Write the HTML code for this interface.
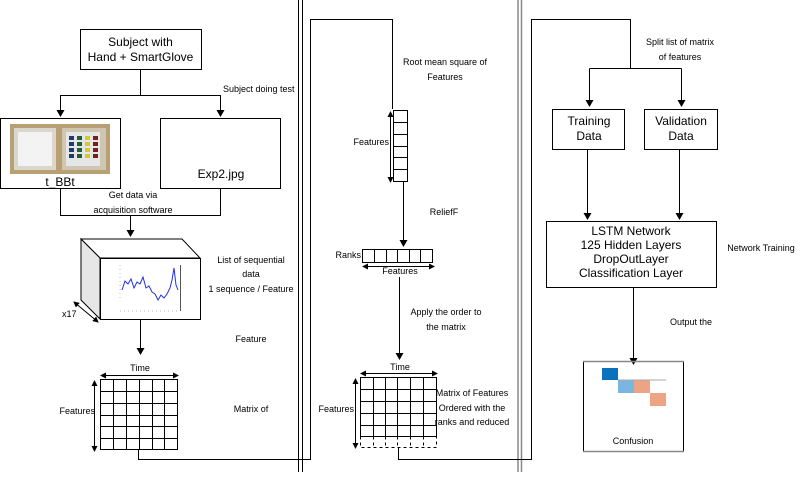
<!DOCTYPE html>
<html><head><meta charset="utf-8"><style>
html,body{margin:0;padding:0;background:#fff;}
svg{display:block;}
text{font-family:"Liberation Sans",sans-serif;fill:#000;}
.s{font-size:9px;}
.m{font-size:12px;}
</style></head><body>
<svg width="807" height="482" viewBox="0 0 807 482" xmlns="http://www.w3.org/2000/svg">
<defs>
<marker id="a" markerWidth="8" markerHeight="8" refX="6" refY="4" orient="auto" markerUnits="userSpaceOnUse"><path d="M0,0 L7,4 L0,8 Z" fill="#000"/></marker>
<marker id="b" markerWidth="6" markerHeight="6" refX="5" refY="3" orient="auto-start-reverse" markerUnits="userSpaceOnUse"><path d="M0,0 L6,3 L0,6 Z" fill="#000"/></marker>
</defs>
<g stroke="#000" fill="none" stroke-width="1">
<!-- separators -->
<line x1="298.5" y1="0" x2="298.5" y2="472"/><line x1="302.5" y1="0" x2="302.5" y2="472"/>
<line x1="518" y1="0" x2="518" y2="472" stroke="#888" stroke-width="1.5"/><line x1="521.5" y1="0" x2="521.5" y2="472" stroke="#888" stroke-width="1.5"/>

<!-- top box -->
<rect x="80.5" y="29.5" width="121" height="40"/>
<path d="M140.5,69 V95.5 H60.5 V116" marker-end="url(#a)"/>
<path d="M140.5,95.5 H220.5 V116" marker-end="url(#a)"/>
<rect x="0.5" y="118.5" width="120" height="70"/>
<rect x="160.5" y="118.5" width="120" height="70"/>
<path d="M60.5,188 V215.5 H220.5 V188"/>
<path d="M130.5,215.5 V236" marker-end="url(#a)"/>

<!-- 3D box -->
<polygon points="81,239 182,239 200,258 100,258" fill="#fff"/>
<polygon points="81,239 100,258 100,319 81,300" fill="#e6e6e6"/>
<rect x="100.5" y="258.5" width="100" height="61" fill="#fff"/>
<line x1="74" y1="302" x2="98" y2="322" marker-start="url(#b)" marker-end="url(#b)"/>
<path d="M140.5,319 V354" marker-end="url(#a)"/>

<!-- matrix 1 -->
<rect x="100.5" y="379.5" width="77" height="70"/>
<path d="M113.5,379.5V449.5M126.5,379.5V449.5M139.5,379.5V449.5M152.5,379.5V449.5M164.5,379.5V449.5"/>
<path d="M100.5,391.5H177.5M100.5,403.5H177.5M100.5,415.5H177.5M100.5,426.5H177.5M100.5,438.5H177.5"/>
<line x1="101" y1="375.5" x2="178" y2="375.5" marker-start="url(#b)" marker-end="url(#b)"/>
<line x1="94.5" y1="381" x2="94.5" y2="451" marker-start="url(#b)" marker-end="url(#b)"/>
<path d="M138.5,449 V459.5 H310.5 V19.5 H392.5 V109"/>

<!-- feature column -->
<rect x="393.5" y="110.5" width="14" height="71"/>
<path d="M393.5,122.5H407.5M393.5,134.5H407.5M393.5,146.5H407.5M393.5,157.5H407.5M393.5,169.5H407.5"/>
<line x1="390.5" y1="112" x2="390.5" y2="182" marker-start="url(#b)" marker-end="url(#b)"/>
<path d="M403.5,181 V246" marker-end="url(#a)"/>
<rect x="362.5" y="249.5" width="70" height="13"/>
<path d="M374.5,249.5V262.5M386.5,249.5V262.5M397.5,249.5V262.5M409.5,249.5V262.5M420.5,249.5V262.5"/>
<line x1="363" y1="266.5" x2="434" y2="266.5" marker-start="url(#b)" marker-end="url(#b)"/>
<path d="M399.5,277 V359" marker-end="url(#a)"/>

<!-- matrix 2 -->
<rect x="360.5" y="377.5" width="76" height="59"/>
<path d="M373.5,377.5V436.5M385.5,377.5V436.5M397.5,377.5V436.5M410.5,377.5V436.5M423.5,377.5V436.5"/>
<path d="M360.5,389.5H436.5M360.5,401.5H436.5M360.5,413.5H436.5M360.5,425.5H436.5"/>
<path d="M360.5,436.5V447.5H436.5V436.5M373.5,436.5V447.5M385.5,436.5V447.5M397.5,436.5V447.5M410.5,436.5V447.5M423.5,436.5V447.5" stroke-dasharray="3,3"/>
<line x1="361" y1="373.5" x2="437" y2="373.5" marker-start="url(#b)" marker-end="url(#b)"/>
<line x1="355.5" y1="379" x2="355.5" y2="448" marker-start="url(#b)" marker-end="url(#b)"/>
<path d="M398.5,447 V459.5 H531.5 V19.5 H630.5 V68.5"/>
<path d="M589.5,68.5 H681.5"/>
<path d="M589.5,68.5 V106" marker-end="url(#a)"/>
<path d="M681.5,68.5 V106" marker-end="url(#a)"/>

<!-- right -->
<rect x="552.5" y="109.5" width="72" height="40"/>
<rect x="644.5" y="109.5" width="73" height="40"/>
<path d="M587.5,149 V219" marker-end="url(#a)"/>
<path d="M679.5,149 V219" marker-end="url(#a)"/>
<rect x="546.5" y="221.5" width="170" height="66"/>
<path d="M633.5,287 V364" marker-end="url(#a)"/>
<rect x="583.5" y="361.5" width="100" height="90"/>
</g>
<line x1="583" y1="361.5" x2="684" y2="361.5" stroke="#888" stroke-width="1.5"/>
<line x1="583" y1="451.5" x2="684" y2="451.5" stroke="#888" stroke-width="1.5"/>
<rect x="602" y="368" width="16" height="12" fill="#0a72bd"/>
<rect x="618" y="380" width="16" height="13" fill="#7ab6e0"/>
<rect x="634" y="380" width="16" height="13" fill="#eda484"/>
<rect x="650" y="393" width="16" height="13" fill="#eda484"/>
<line x1="618" y1="380" x2="666" y2="380" stroke="#aaa"/>

<!-- image placeholder -->
<rect x="10" y="124" width="100" height="50" fill="#b99f74"/>
<rect x="14" y="128" width="42" height="42" fill="#dcd7cc"/>
<rect x="62" y="128" width="44" height="42" fill="#cfc6b2"/>
<rect x="18" y="132" width="34" height="34" fill="#f3f3f3"/>
<rect x="66" y="132" width="34" height="34" fill="#e6e6e6"/>
<g fill="#1c3b6e"><rect x="69" y="136" width="5" height="4"/><rect x="69" y="142" width="5" height="4"/><rect x="69" y="148" width="5" height="4"/><rect x="69" y="154" width="5" height="4"/></g>
<g fill="#1f5e30"><rect x="77" y="136" width="5" height="4"/><rect x="77" y="142" width="5" height="4"/><rect x="77" y="148" width="5" height="4"/><rect x="77" y="154" width="5" height="4"/></g>
<g fill="#d8c82a"><rect x="85" y="136" width="5" height="4"/><rect x="85" y="142" width="5" height="4"/><rect x="85" y="148" width="5" height="4"/><rect x="85" y="154" width="5" height="4"/></g>
<g fill="#7a1d1d"><rect x="93" y="136" width="5" height="4"/><rect x="93" y="142" width="5" height="4"/><rect x="93" y="148" width="5" height="4"/><rect x="93" y="154" width="5" height="4"/></g>

<!-- plot -->
<line x1="120" y1="265" x2="120" y2="300" stroke="#bbb" stroke-dasharray="1,3"/>
<line x1="120" y1="311" x2="180" y2="311" stroke="#bbb" stroke-dasharray="1,3"/>
<line x1="180.5" y1="265" x2="180.5" y2="311" stroke="#555"/>
<polyline points="122,290 125,281 128,284 131,279 134,288 137,282 140,284 143,277 146,288 149,286 152,292 155,294 158,300 161,295 164,298 167,294 170,288 172,280 174,268 176,285 178,290" fill="none" stroke="#2030e0" stroke-width="1"/>

<!-- text -->
<text class="m" x="140.5" y="46" text-anchor="middle">Subject with</text>
<text class="m" x="140.5" y="61" text-anchor="middle">Hand + SmartGlove</text>
<text class="s" x="223" y="92">Subject doing test</text>
<text class="m" x="60" y="186" text-anchor="middle">t_BBt</text>
<text class="m" x="221" y="178" text-anchor="middle">Exp2.jpg</text>
<text class="s" x="133" y="198" text-anchor="middle">Get data via</text>
<text class="s" x="133" y="213" text-anchor="middle">acquisition software</text>
<text class="s" x="251" y="263" text-anchor="middle">List of sequential</text>
<text class="s" x="251" y="277" text-anchor="middle">data</text>
<text class="s" x="251" y="292" text-anchor="middle">1 sequence / Feature</text>
<text class="s" x="62" y="317">x17</text>
<text class="s" x="251" y="342" text-anchor="middle">Feature</text>
<text class="s" x="251" y="412" text-anchor="middle">Matrix of</text>
<text class="s" x="140" y="371" text-anchor="middle">Time</text>
<text class="s" x="95" y="414" text-anchor="end">Features</text>
<text class="s" x="445" y="65" text-anchor="middle">Root mean square of</text>
<text class="s" x="445" y="80" text-anchor="middle">Features</text>
<text class="s" x="389" y="145" text-anchor="end">Features</text>
<text class="s" x="444" y="215" text-anchor="middle">ReliefF</text>
<text class="s" x="361" y="258" text-anchor="end">Ranks</text>
<text class="s" x="400" y="274" text-anchor="middle">Features</text>
<text class="s" x="446" y="315" text-anchor="middle">Apply the order to</text>
<text class="s" x="446" y="330" text-anchor="middle">the matrix</text>
<text class="s" x="400" y="370" text-anchor="middle">Time</text>
<text class="s" x="354" y="412" text-anchor="end">Features</text>
<text class="s" x="472" y="396" text-anchor="middle">Matrix of Features</text>
<text class="s" x="472" y="411" text-anchor="middle">Ordered with the</text>
<text class="s" x="472" y="425" text-anchor="middle">ranks and reduced</text>
<text class="s" x="680" y="45" text-anchor="middle">Split list of matrix</text>
<text class="s" x="680" y="60" text-anchor="middle">of features</text>
<text class="m" x="589" y="125" text-anchor="middle">Training</text>
<text class="m" x="589" y="140" text-anchor="middle">Data</text>
<text class="m" x="681" y="125" text-anchor="middle">Validation</text>
<text class="m" x="681" y="140" text-anchor="middle">Data</text>
<text class="m" x="631" y="235" text-anchor="middle">LSTM Network</text>
<text class="m" x="631" y="249" text-anchor="middle">125 Hidden Layers</text>
<text class="m" x="631" y="263" text-anchor="middle">DropOutLayer</text>
<text class="m" x="631" y="277" text-anchor="middle">Classification Layer</text>
<text class="s" x="761" y="251" text-anchor="middle">Network Training</text>
<text class="s" x="691" y="325" text-anchor="middle">Output the</text>
<text class="s" x="633" y="444" text-anchor="middle">Confusion</text>
</svg>
</body></html>
